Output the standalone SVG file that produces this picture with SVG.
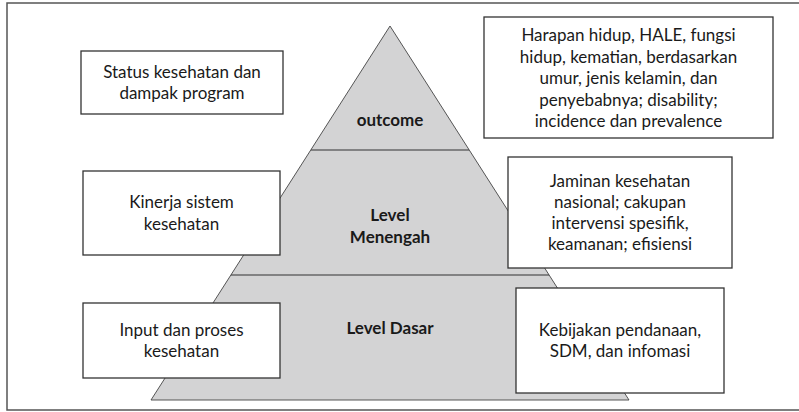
<svg xmlns="http://www.w3.org/2000/svg" width="799" height="412" viewBox="0 0 799 412">
<style>
.frame{fill:none;stroke:#555;stroke-width:1.5}
.pyr{fill:#d3d3d4;stroke:#444;stroke-width:0.9}
.div{stroke:#333;stroke-width:1.2}
.box{fill:#fff;stroke:#333;stroke-width:1.3}
.t{font-family:Lato,"Open Sans","Liberation Sans",sans-serif;font-size:17px;fill:#1a1a1a;text-anchor:middle}
.b{font-family:Lato,"Open Sans","Liberation Sans",sans-serif;font-size:17px;font-weight:bold;fill:#1a1a1a;text-anchor:middle}
</style>
<rect class="frame" x="7" y="3" width="800" height="407"/>
<g id="pyramid">
<polygon class="pyr" points="390,26 151,400 629,400"/>
<line class="div" x1="311" y1="150" x2="469" y2="150"/>
<line class="div" x1="231" y1="275" x2="549" y2="275"/>
<text class="b" x="390" y="126">outcome</text>
<text class="b" x="390" y="221">Level</text>
<text class="b" x="390" y="243">Menengah</text>
<text class="b" x="390" y="334">Level Dasar</text>
</g>
<g id="status">
<rect class="box" x="81" y="51" width="202" height="63"/>
<text class="t" x="182" y="78">Status kesehatan dan</text>
<text class="t" x="182" y="99">dampak program</text>
</g>
<g id="kinerja">
<rect class="box" x="83" y="171" width="197" height="84"/>
<text class="t" x="181.5" y="208">Kinerja sistem</text>
<text class="t" x="181.5" y="230">kesehatan</text>
</g>
<g id="input">
<rect class="box" x="83" y="303" width="197" height="75"/>
<text class="t" x="181.5" y="336">Input dan proses</text>
<text class="t" x="181.5" y="357">kesehatan</text>
</g>
<g id="harapan">
<rect class="box" x="484" y="17" width="289" height="121"/>
<text class="t" x="628.5" y="41">Harapan hidup, HALE, fungsi</text>
<text class="t" x="628.5" y="62.5">hidup, kematian, berdasarkan</text>
<text class="t" x="628.5" y="84">umur, jenis kelamin, dan</text>
<text class="t" x="628.5" y="105.5">penyebabnya; disability;</text>
<text class="t" x="628.5" y="127">incidence dan prevalence</text>
</g>
<g id="jaminan">
<rect class="box" x="508" y="157" width="224" height="111"/>
<text class="t" x="620" y="187">Jaminan kesehatan</text>
<text class="t" x="620" y="208">nasional; cakupan</text>
<text class="t" x="620" y="229">intervensi spesifik,</text>
<text class="t" x="620" y="250">keamanan; efisiensi</text>
</g>
<g id="kebijakan">
<rect class="box" x="516" y="288" width="208" height="105"/>
<text class="t" x="620" y="336">Kebijakan pendanaan,</text>
<text class="t" x="620" y="357">SDM, dan infomasi</text>
</g>
<g id="connectors"></g>
</svg>
